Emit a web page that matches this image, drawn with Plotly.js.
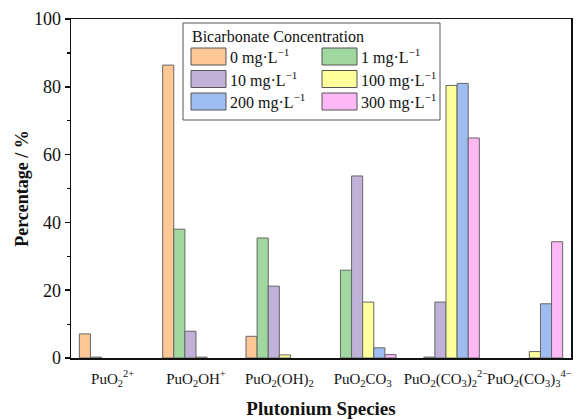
<!DOCTYPE html>
<html><head><meta charset="utf-8">
<script src="https://cdn.plot.ly/plotly-3.0.1.min.js"></script>
<style>body{margin:0;padding:0;background:#fff}#chart{width:577px;height:419px}</style>
</head><body><div id="chart"></div>
<script>
const categories = ['PuO<sub>2</sub><sup>2+</sup>','PuO<sub>2</sub>OH<sup>+</sup>','PuO<sub>2</sub>(OH)<sub>2</sub>','PuO<sub>2</sub>CO<sub>3</sub>','PuO<sub>2</sub>(CO<sub>3</sub>)<sub>2</sub><sup>2−</sup>','PuO<sub>2</sub>(CO<sub>3</sub>)<sub>3</sub><sup>4−</sup>'];
const seriesNames = ['0 mg·L<sup>−1</sup>','1 mg·L<sup>−1</sup>','10 mg·L<sup>−1</sup>','100 mg·L<sup>−1</sup>','200 mg·L<sup>−1</sup>','300 mg·L<sup>−1</sup>'];
const c0   = [7.1, 86.4, 6.4, 0, 0, 0];
const c1   = [0.25, 38.0, 35.4, 25.9, 0.25, 0];
const c10  = [0, 7.9, 21.2, 53.7, 16.5, 0];
const c100 = [0, 0.25, 0.9, 16.5, 80.4, 1.9];
const c200 = [0, 0, 0, 3.0, 81.0, 16.0];
const c300 = [0, 0, 0, 1.0, 64.9, 34.3];
const seriesValues = [c0, c1, c10, c100, c200, c300];
const colors = ['#FDC896','#A0D8A0','#BFB1D8','#FFFF9C','#9DBCF2','#FFB7F6'];
const legendTitle = 'Bicarbonate Concentration';

const FONT = '"Liberation Serif", "Times New Roman", serif';
const traces = seriesNames.map((n,i)=>({
  type:'bar', x:categories, y:seriesValues[i].map(v => v === 0 ? null : v), name:n, showlegend:false,
  marker:{color:colors[i], line:{color:'#666', width:1}}
}));

// pixel helpers for custom legend (plot area: x 71..571, y 19..358)
const L=71, R=571, T=19, B=358;
const px = v => (v-L)/(R-L);
const py = v => (B-v)/(B-T);
const shapes = [{type:'rect', xref:'paper', yref:'paper', x0:px(183), x1:px(440), y0:py(23), y1:py(120), line:{color:'#555', width:1}, fillcolor:'rgba(0,0,0,0)'}];
const annotations = [{xref:'paper', yref:'paper', x:px(190), y:py(37), xanchor:'left', yanchor:'middle', text:legendTitle, showarrow:false, font:{family:FONT, size:16, color:'#111'}}];
const colX = [191, 322], rowY = [56.5, 79, 101.5];
seriesNames.forEach((n,i)=>{
  const cx = colX[i%2], cy = rowY[Math.floor(i/2)];
  shapes.push({type:'rect', xref:'paper', yref:'paper', x0:px(cx), x1:px(cx+35), y0:py(cy-8.5), y1:py(cy+8.5), fillcolor:colors[i], line:{color:'#555', width:1}});
  annotations.push({xref:'paper', yref:'paper', x:px(cx+37), y:py(cy), xanchor:'left', yanchor:'middle', text:n, showarrow:false, font:{family:FONT, size:16, color:'#111'}});
});

const layout = {
  width:577, height:419, margin:{l:71, r:6, t:19, b:61},
  paper_bgcolor:'#fff', plot_bgcolor:'#fff',
  barmode:'group', bargap:0.2, bargroupgap:0,
  font:{family:FONT, color:'#111'},
  xaxis:{showline:true, mirror:true, linecolor:'#111', linewidth:1.5, ticks:'', showgrid:false, tickangle:0, ticklabelstandoff:6,
    tickfont:{family:FONT, size:15, color:'#111'},
    title:{text:'<b>Plutonium Species</b>', font:{family:FONT, size:19, color:'#111'}, standoff:14}},
  yaxis:{range:[0,100], dtick:20, showline:true, mirror:true, linecolor:'#111', linewidth:1.5, ticks:'outside', ticklen:5, tickwidth:1.5, tickcolor:'#111', showgrid:false, zeroline:false,
    minor:{dtick:10, ticks:'outside', ticklen:3, tickwidth:1.2, tickcolor:'#111'},
    tickfont:{family:FONT, size:18, color:'#111'},
    title:{text:'<b>Percentage / %</b>', font:{family:FONT, size:18, color:'#111'}, standoff:0}},
  shapes:shapes, annotations:annotations, showlegend:false
};
Plotly.newPlot('chart', traces, layout, {staticPlot:true, displayModeBar:false});
</script></body></html>
